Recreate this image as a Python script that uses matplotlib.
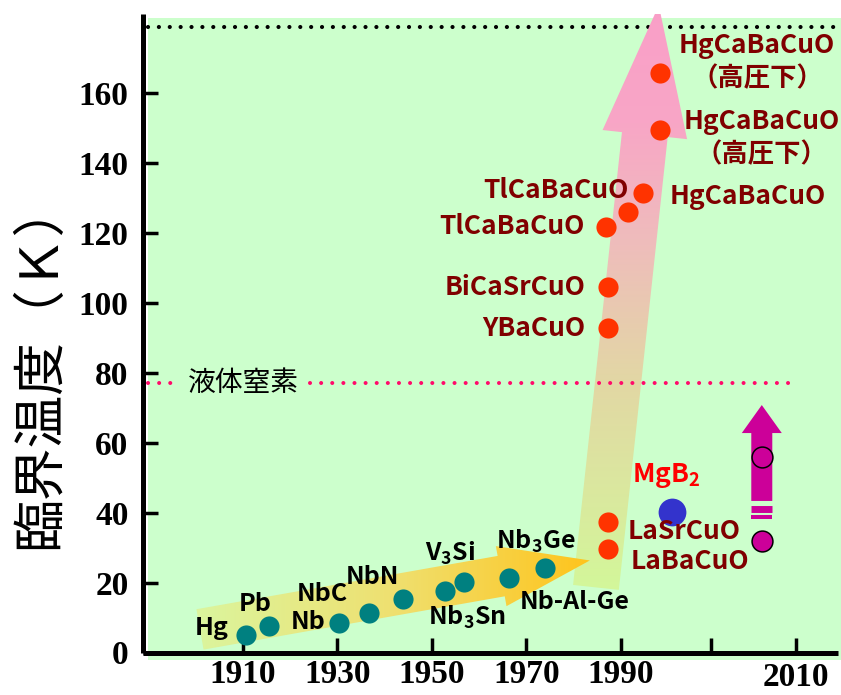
import numpy as np
import matplotlib
matplotlib.use('Agg')
import matplotlib.pyplot as plt
from matplotlib.patches import Polygon, Rectangle
from matplotlib.colors import LinearSegmentedColormap

plt.rcParams['font.family'] = ['Noto Sans CJK JP', 'DejaVu Sans']
plt.rcParams['mathtext.fontset'] = 'custom'
plt.rcParams['mathtext.rm'] = 'Noto Sans CJK JP:bold'
plt.rcParams['mathtext.it'] = 'Noto Sans CJK JP:bold'
plt.rcParams['mathtext.bf'] = 'Noto Sans CJK JP:bold'
plt.rcParams['mathtext.default'] = 'rm'

# ---------------- data ----------------
metal_names = ['Hg', 'Pb', 'Nb', 'NbC', 'NbN', 'Nb$_3$Sn', 'V$_3$Si', 'Nb-Al-Ge', 'Nb$_3$Ge']
metal_years = [1910.6, 1915.5, 1930.3, 1936.7, 1943.9, 1952.8, 1956.8, 1966.3, 1973.9]
metal_tc = [5.0, 7.6, 8.4, 11.3, 15.3, 17.6, 20.1, 21.3, 24.1]
metal_label_x = [1903.4, 1912.6, 1923.8, 1926.8, 1937.3, 1957.5, 1953.8, 1980.3, 1972.0]
metal_label_y = [6.9, 14.0, 8.7, 16.7, 21.6, 9.9, 28.4, 14.3, 31.7]

cuprate_names = ['LaBaCuO', 'LaSrCuO', 'YBaCuO', 'BiCaSrCuO', 'TlCaBaCuO', 'TlCaBaCuO',
                 'HgCaBaCuO', 'HgCaBaCuO\n（高圧下）', 'HgCaBaCuO\n（高圧下）']
cuprate_years = [1987.2, 1987.2, 1987.2, 1987.2, 1986.8, 1991.5, 1994.7, 1998.3, 1998.3]
cuprate_tc = [29.6, 37.3, 92.7, 104.4, 121.6, 125.9, 131.3, 149.3, 165.6]
cuprate_label_x = [1992.1, 1991.5, 1982.4, 1982.4, 1982.4, 1991.7, 2000.2, 2019.8, 2018.8]
cuprate_label_y = [25.9, 34.6, 92.7, 104.4, 121.6, 132.1, 130.4, 147.0, 168.7]
cuprate_label_ha = ['left', 'left', 'right', 'right', 'right', 'right', 'left', 'center', 'center']

mgb2_name = 'MgB$_2$'
mgb2_year = [2000.8]
mgb2_tc = [40.1]
mgb2_label_xy = (1992.3, 50.6)

future_years = [2019.8, 2019.8]
future_tc = [55.9, 31.9]

ln2_temp = 77.0
ln2_label = '液体窒素'
top_line_temp = 178.7

y_ticks = [0, 20, 40, 60, 80, 100, 120, 140, 160]
y_tick_labels = ['0', '20', '40', '60', '80', '100', '120', '140', '160']
x_ticks = [1910, 1930, 1950, 1970, 1990, 2009, 2027]
x_tick_labels = ['1910', '1930', '1950', '1970', '1990', '', '2010']
y_label = '臨界温度（Ｋ）'

# ---------------- figure ----------------
W, H = 841, 695
fig = plt.figure(figsize=(W / 100, H / 100), dpi=100)
fig.patch.set_facecolor('white')
ax = fig.add_axes([142.5 / W, (H - 652.5) / H, (838 - 142.5) / W, (652.5 - 14) / H])
ax.set_facecolor('none')
ax.set_xlim(1888.73, 2035.93)
ax.set_ylim(0, 182.43)

# green background
fig.add_artist(Rectangle((148 / W, (H - 660) / H), (W - 148) / W, (660 - 18) / H,
                         transform=fig.transFigure, facecolor='#ccffcc',
                         edgecolor='none', zorder=-5))


def arrow_poly(tail, tip, shaft_w, head_w, head_len):
    p0 = ax.transData.transform(tail)
    p1 = ax.transData.transform(tip)
    d = p1 - p0
    u = d / np.hypot(*d)
    n = np.array([-u[1], u[0]])
    base = p1 - u * head_len
    pts = [p0 + n * shaft_w / 2, base + n * shaft_w / 2, base + n * head_w / 2, p1,
           base - n * head_w / 2, base - n * shaft_w / 2, p0 - n * shaft_w / 2]
    return ax.transData.inverted().transform(np.array(pts))


def gradient_arrow(verts, colors, direction, zorder):
    poly = Polygon(verts, closed=True, facecolor='none', edgecolor='none',
                   transform=ax.transData)
    ax.add_patch(poly)
    x0, y0 = verts.min(axis=0)
    x1, y1 = verts.max(axis=0)
    g = np.linspace(0, 1, 256)
    img = g[None, :] if direction == 'x' else g[:, None]
    cmap = LinearSegmentedColormap.from_list('g', colors)
    im = ax.imshow(img, extent=[x0, x1, y0, y1], origin='lower', aspect='auto',
                   cmap=cmap, zorder=zorder, interpolation='bilinear')
    im.set_clip_box(None)
    im.set_clip_path(poly)


# black dotted top line
ax.plot([1889.9, 2035.9], [top_line_temp, top_line_temp], color='black', lw=3,
        ls=(0, (0.01, 2.6)), dash_capstyle='round', zorder=1, clip_on=False)

# vertical (cuprate) arrow
v = arrow_poly((1984.7, 18.6), (1998.0, 184.9), 46, 85, 130)
gradient_arrow(v, [(0, '#d3f79a'), (0.35, '#e2d8a4'), (0.6, '#efbcbc'), (0.8, '#f8a6c6'), (1, '#fa9fc8')], 'y', 2)

# horizontal (metal) arrow
hpoly = arrow_poly((1900.9, 6.6), (1983.4, 26.3), 41, 61, 90)
gradient_arrow(hpoly, ['#dbf59e', '#efe070', '#ffc41c'], 'x', 3)

ax.set_xlim(1888.73, 2035.93)
ax.set_ylim(0, 182.43)

# liquid nitrogen line
for xs in ([1889.9, 1896.7], [1924.2, 2025.8]):
    ax.plot(xs, [ln2_temp, ln2_temp], color='#ff0a6a', lw=2.9,
            ls=(0, (0.01, 2.75)), dash_capstyle='round', zorder=4, clip_on=False)
ax.text(1910.0, ln2_temp, ln2_label, fontsize=20, color='black', ha='center',
        va='center', zorder=6)

# magenta arrow
m = arrow_poly((future_years[0], 43.3), (future_years[0], 70.7), 21, 40, 28)
ax.add_patch(Polygon(m, closed=True, facecolor='#cc0099', edgecolor='none', zorder=4))
ax.plot([future_years[0] - 2.22, future_years[0] + 2.22], [41.1, 41.1], color='#cc0099',
        lw=5, solid_capstyle='butt', zorder=4)
ax.plot([future_years[0] - 2.22, future_years[0] + 2.22], [38.7, 38.7], color='#cc0099',
        lw=2.9, solid_capstyle='butt', zorder=4)

# points
ax.scatter(metal_years, metal_tc, s=14.5 ** 2, color='#008080', zorder=5, linewidths=0)
ax.scatter(cuprate_years, cuprate_tc, s=14.5 ** 2, color='#ff3300', zorder=5, linewidths=0)
ax.scatter(mgb2_year, mgb2_tc, s=20 ** 2, color='#3333cc', zorder=5, linewidths=0)
ax.scatter(future_years, future_tc, s=15 ** 2, color='#cc0099', edgecolors='black',
           linewidths=1.1, zorder=6)

# labels
for name, x, y in zip(metal_names, metal_label_x, metal_label_y):
    ax.text(x, y, name, fontsize=18, fontweight='bold', color='black',
            ha='center', va='center', zorder=7)
for name, x, y, ha in zip(cuprate_names, cuprate_label_x, cuprate_label_y, cuprate_label_ha):
    ax.text(x, y, name, fontsize=19, fontweight='bold', color='#800000',
            ha=ha, va='center', multialignment='center', linespacing=1.3,
            zorder=7, clip_on=False)
ax.text(mgb2_label_xy[0], mgb2_label_xy[1], mgb2_name, fontsize=19, fontweight='bold',
        color='#ff0000', ha='left', va='center', zorder=7)

# axes styling
for s in ['top', 'right']:
    ax.spines[s].set_visible(False)
for s in ['left', 'bottom']:
    ax.spines[s].set_linewidth(3.6)
    ax.spines[s].set_capstyle('butt')
tick_font = dict(fontfamily='Liberation Serif', fontweight='bold', fontsize=24)
ax.set_yticks(y_ticks)
ax.set_yticklabels(y_tick_labels, **tick_font)
ax.set_xticks(x_ticks)
ax.set_xticklabels([lbl if lbl != '2010' else '' for lbl in x_tick_labels], **tick_font)
ax.tick_params(axis='both', direction='in', length=10.5, width=2.5, color='black')
ax.tick_params(axis='y', pad=10)
ax.tick_params(axis='x', pad=5)
for t, lbl in zip(x_ticks, x_tick_labels):
    if lbl == '2010':
        ax.text(t, -0.063, lbl, transform=ax.get_xaxis_transform(), ha='center',
                va='bottom', **tick_font)

fig.text(40 / W, 1 - 364 / H, y_label, rotation=90, fontsize=38, ha='center', va='center')

fig.savefig('out.png', dpi=100)
